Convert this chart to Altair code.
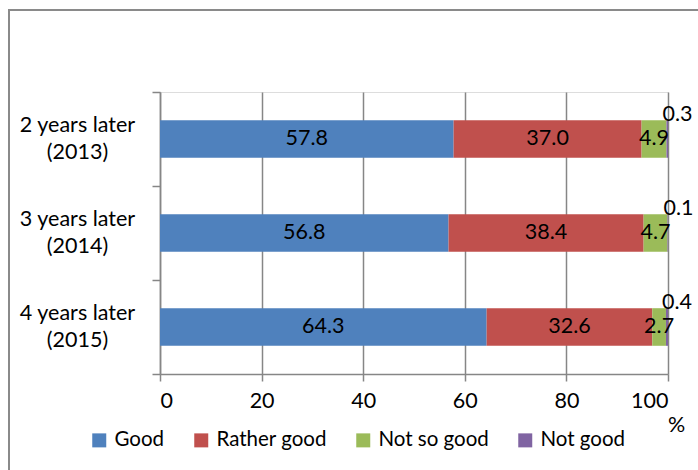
import altair as alt
import pandas as pd

categories = ["2 years later (2013)", "3 years later (2014)", "4 years later (2015)"]
ratings = ["Good", "Rather good", "Not so good", "Not good"]
colors = ["#4F81BD", "#C0504D", "#9BBB59", "#8064A2"]
good = [57.8, 56.8, 64.3]
rather_good = [37.0, 38.4, 32.6]
not_so_good = [4.9, 4.7, 2.7]
not_good = [0.3, 0.1, 0.4]
x_ticks = [0, 20, 40, 60, 80, 100]

series = [good, rather_good, not_so_good, not_good]
rows = []
for ri, (rname, vals) in enumerate(zip(ratings, series)):
    for ci, cat in enumerate(categories):
        rows.append({"cat": cat, "rating": rname, "order": ri, "value": vals[ci]})
df = pd.DataFrame(rows)

FONT = "Lato"
FS = 21.5
LFS = 20.5

base = alt.Chart(df).transform_stack(
    stack="value", as_=["x0", "x1"], groupby=["cat"], sort=[alt.SortField("order")]
).transform_calculate(mid="(datum.x0 + datum.x1) / 2", lbl="format(datum.value, '.1f')")

yenc = alt.Y(
    "cat:N",
    sort=categories,
    scale=alt.Scale(paddingInner=0, paddingOuter=0),
    axis=alt.Axis(
        title=None,
        tickBand="extent",
        tickSize=8,
        tickColor="#868686",
        domainColor="#868686",
        domainWidth=1.5,
        tickWidth=1.5,
        labelAlign="center",
        labelBaseline="middle",
        labelPadding=75,
        labelOffset=-14,
        labelFont=FONT,
        labelFontSize=FS,
        labelColor="#000000",
        labelLineHeight=27,
        labelExpr="[slice(datum.label, 0, indexof(datum.label, ' (')), slice(datum.label, indexof(datum.label, ' (') + 1)]",
    ),
)

bars = base.mark_bar(height={"band": 0.4}).encode(
    y=yenc,
    x=alt.X(
        "x0:Q",
        scale=alt.Scale(domain=[0, 100], nice=False, zero=True),
        axis=alt.Axis(
            values=x_ticks,
            title="%",
            titleX=516,
            titleY=40,
            titleFont=FONT,
            titleFontSize=FS,
            titleFontWeight="normal",
            titleColor="#000000",
            grid=True,
            gridColor="#868686",
            gridWidth=1.5,
            domainColor="#868686",
            domainWidth=1.5,
            tickColor="#868686",
            tickWidth=1.5,
            tickSize=7,
            labelPadding=9,
            labelFont=FONT,
            labelFontSize=FS,
            labelColor="#000000",
        ),
    ),
    x2="x1:Q",
    color=alt.Color(
        "rating:N",
        scale=alt.Scale(domain=ratings, range=colors),
        legend=alt.Legend(
            title=None,
            orient="none",
            direction="horizontal",
            legendX=-71,
            legendY=338,
            padding=0,
            symbolType="square",
            symbolSize=196,
            symbolStrokeWidth=0,
            symbolOpacity=1,
            labelFont=FONT,
            labelFontSize=LFS,
            labelColor="#000000",
            labelOffset=5,
            columnPadding=26,
        ),
    ),
)

labels_main = base.transform_filter("datum.rating != 'Not good'").mark_text(
    font=FONT, fontSize=FS, color="#000000", align="center", baseline="middle"
).encode(y=alt.Y("cat:N", sort=categories), x="mid:Q", text="lbl:N")

labels_small = base.transform_filter("datum.rating == 'Not good'").mark_text(
    font=FONT, fontSize=FS, color="#000000", align="left", baseline="middle", dx=-4, dy=-24
).encode(y=alt.Y("cat:N", sort=categories), x="x0:Q", text="lbl:N")

frame_df = pd.DataFrame({"k": [0]})
border_left = alt.Chart(frame_df).mark_rule(color="#8a8a8a", strokeWidth=2).encode(
    x=alt.value(-151), y=alt.value(-82), y2=alt.value(380)
)
border_top = alt.Chart(frame_df).mark_rule(color="#8a8a8a", strokeWidth=2).encode(
    x=alt.value(-152), x2=alt.value(540), y=alt.value(-82)
)

chart = alt.layer(bars, labels_main, labels_small, border_left, border_top).properties(
    width=508,
    height=282,
    autosize=alt.AutoSizeParams(type="none"),
    padding={"left": 160, "top": 92, "right": 30, "bottom": 96},
).configure_view(stroke=None).configure(background="white")

chart.save("out.html", embed_options={"renderer": "svg", "actions": False})
